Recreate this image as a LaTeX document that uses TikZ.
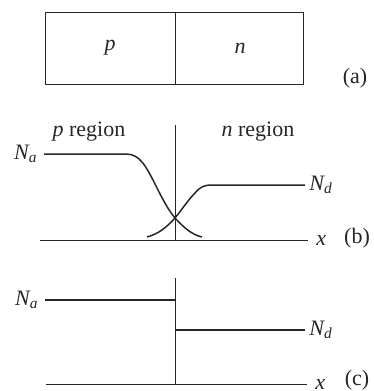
\documentclass[tikz,border=0pt]{standalone}
\usepackage{fontspec}
\setmainfont{Liberation Serif}
\usetikzlibrary{positioning}
\tikzset{axisline/.style={line width=0.5pt},
  profile/.style={line width=0.75pt},
  lbl/.style={inner sep=1pt,font=\fontsize{11}{13}\selectfont}}
\newcommand{\Nsub}[1]{\textit{N\textsubscript{#1}}}
\begin{document}
\begin{tikzpicture}[x=0.5pt,y=-0.5pt,line join=round,black!85]
\useasboundingbox (0,0) rectangle (374,391);
% --- (a) the junction bar
\draw[axisline] (45,12) rectangle (303,84);
\draw[axisline] (175,12) -- (175,84);
\node[lbl] (pbox) at (110,48) {\textit{p}};
\node[lbl] (nbox) at (240,48) {\textit{n}};
\node[lbl] (capa) at (355,78) {(a)};
% --- (b) graded doping profile
\coordinate (bO) at (175,240);
\draw[axisline] (40,240) coordinate (bL) -- (308,240) coordinate (bR);
\draw[axisline] (175,125) coordinate (bT) -- (bO);
\node[lbl,right=3pt of bR] (bx) {\textit{x}};
\node[lbl] (capb) at (357,238) {(b)};
\node[lbl] (preg) at (89,132) {\textit{p} region};
\node[lbl] (nreg) at (258,132) {\textit{n} region};
\draw[profile] (44,154) coordinate (bNa) -- (126,154)
  .. controls (140,154) and (146,166) .. (157,188)
  .. controls (165,204) and (170,212) .. (175,218)
  .. controls (185,229) and (193,235) .. (202,237);
\draw[profile] (147,237)
  .. controls (158,234) and (166,228) .. (175,218)
  .. controls (183,208) and (189,199) .. (195,193)
  .. controls (200,187) and (204,185) .. (212,185) -- (305,185) coordinate (bNd);
\node[lbl,left=2pt of bNa] (lNab) {\Nsub{a}};
\node[lbl,right=1pt of bNd] (lNdb) {\Nsub{d}};
% --- (c) abrupt step profile
\coordinate (cO) at (175,384);
\draw[axisline] (46,384) coordinate (cL) -- (307,384) coordinate (cR);
\draw[axisline] (175,278) coordinate (cT) -- (cO);
\node[lbl,inner sep=0pt,right=4pt of cR] (cx) {\textit{x}};
\node[lbl] (capc) at (357,380) {(c)};
\draw[profile] (45,300) coordinate (cNa) -- (175,300);
\draw[profile] (175,330) -- (305,330) coordinate (cNd);
\node[lbl,left=2pt of cNa] (lNac) {\Nsub{a}};
\node[lbl,right=1pt of cNd] (lNdc) {\Nsub{d}};
\end{tikzpicture}
\end{document}
